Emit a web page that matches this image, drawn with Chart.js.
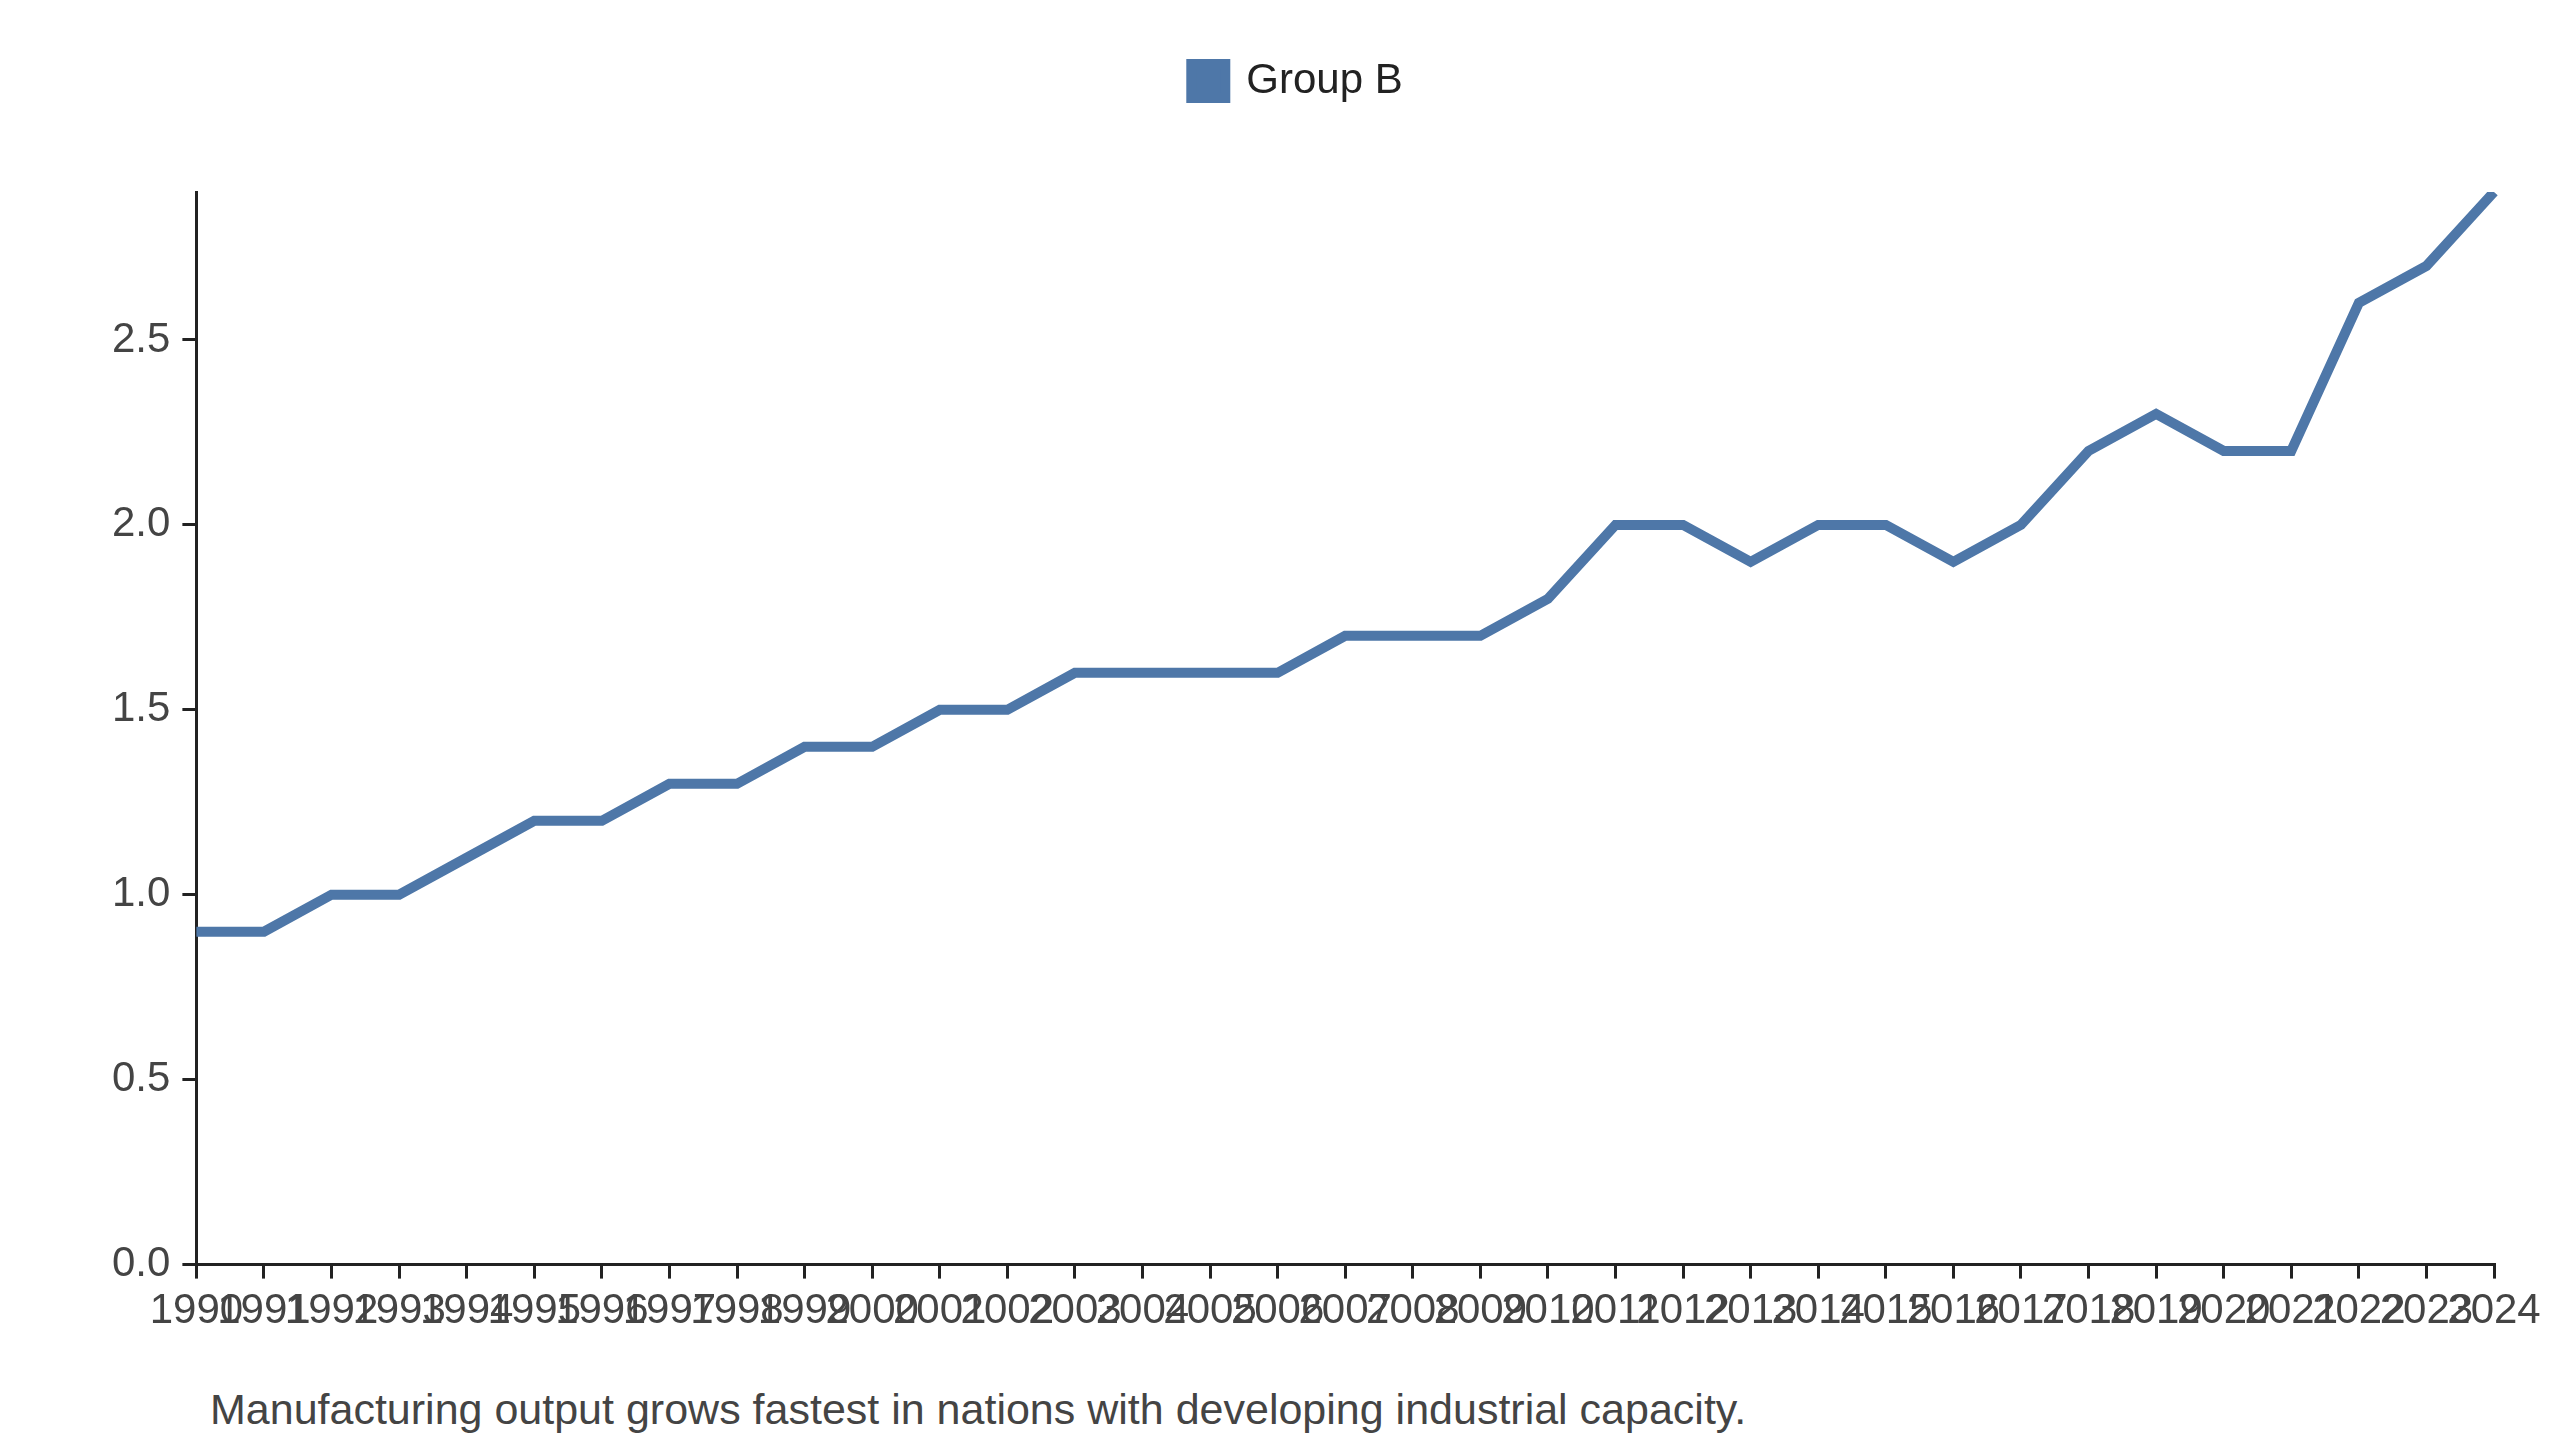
<!DOCTYPE html>
<html>
<head>
<script src="https://cdn.jsdelivr.net/npm/chart.js@4"></script>
<style>
  body { margin: 0; background: #fff; font-family: Arial, "Liberation Sans", sans-serif; }
  .wrap { position: relative; width: 2560px; height: 1440px; }
  .caption { position: absolute; left: 210px; top: 1385px; font-size: 43px; color: #444; }
</style>
</head>
<body>
<div class="wrap">
  <canvas id="chart" width="2560" height="1345"></canvas>
  <div class="caption">Manufacturing output grows fastest in nations with developing industrial capacity.</div>
</div>
<script>
  const years = [];
  for (let y = 1990; y <= 2024; y++) years.push(String(y));
  const groupB = [0.9, 0.9, 1.0, 1.0, 1.1, 1.2, 1.2, 1.3, 1.3, 1.4, 1.4, 1.5, 1.5, 1.6, 1.6, 1.6, 1.6,
    1.7, 1.7, 1.7, 1.8, 2.0, 2.0, 1.9, 2.0, 2.0, 1.9, 2.0, 2.2, 2.3, 2.2, 2.2, 2.6, 2.7, 2.9];

  Chart.defaults.font.family = 'Arial, "Liberation Sans", sans-serif';
  Chart.defaults.color = '#333';

  new Chart(document.getElementById('chart'), {
    type: 'line',
    data: {
      labels: years,
      datasets: [{
        label: 'Group B',
        data: groupB,
        borderColor: '#4e77a8',
        backgroundColor: '#4e77a8',
        borderWidth: 10,
        pointRadius: 0,
        tension: 0,
      }],
    },
    options: {
      responsive: false,
      animation: false,
      layout: { padding: { left: 100, right: 66, top: 10, bottom: 0 } },
      plugins: {
        legend: {
          labels: { font: { size: 42 }, boxWidth: 34, boxHeight: 34, padding: 50, color: '#222' },
        },
        tooltip: { enabled: false },
      },
      scales: {
        x: {
          offset: false,
          grid: { display: true, drawOnChartArea: false, tickLength: 14, color: '#222', lineWidth: 3 },
          border: { color: '#222', width: 3 },
          ticks: { autoSkip: false, maxRotation: 0, minRotation: 0, font: { size: 42 }, color: '#444', padding: 8 },
        },
        y: {
          min: 0, max: 2.9,
          afterBuildTicks: axis => { axis.ticks = axis.ticks.filter(t => Math.abs(t.value * 2 - Math.round(t.value * 2)) < 1e-9); },
          grid: { display: true, drawOnChartArea: false, tickLength: 14, color: '#222', lineWidth: 3 },
          border: { color: '#222', width: 3 },
          ticks: { stepSize: 0.5, font: { size: 42 }, color: '#444', padding: 12,
            callback: v => v.toFixed(1) },
        },
      },
    },
    plugins: [{
      id: 'legendGap',
      beforeInit(chart) {
        const fit = chart.legend.fit;
        chart.legend.fit = function () { fit.bind(chart.legend)(); this.height += 80; };
      },
    }],
  });
</script>
</body>
</html>
